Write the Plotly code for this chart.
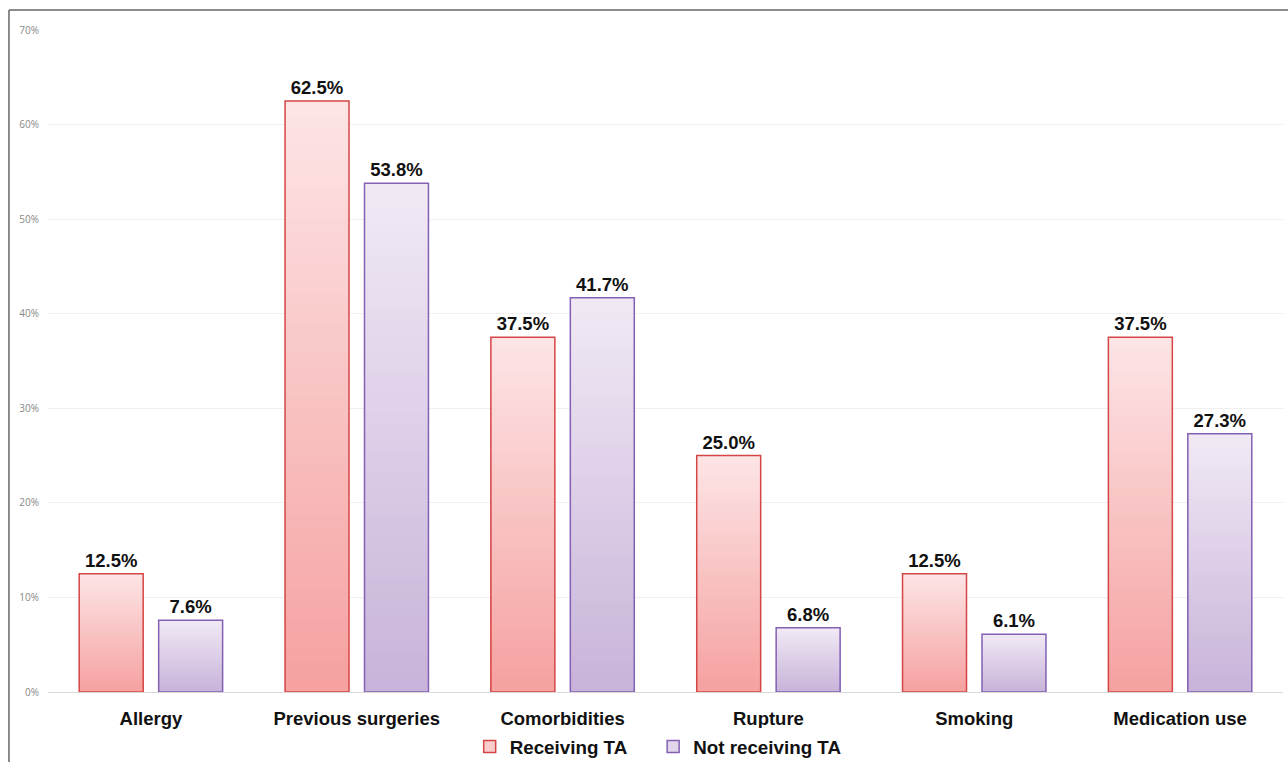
import plotly.graph_objects as go

categories = ["Allergy", "Previous surgeries", "Comorbidities", "Rupture", "Smoking", "Medication use"]
receiving_ta = [12.5, 62.5, 37.5, 25.0, 12.5, 37.5]
not_receiving_ta = [7.6, 53.8, 41.7, 6.8, 6.1, 27.3]
series_names = ["Receiving TA", "Not receiving TA"]

# gradient end colours (top, bottom) and outline colour per series
styles = {
    "Receiving TA": {"top": (253, 228, 229), "bottom": (245, 160, 159), "line": "#d64545"},
    "Not receiving TA": {"top": (240, 233, 244), "bottom": (199, 178, 217), "line": "#8460b4"},
}

N_STEPS = 40
FONT = "Liberation Sans, Arial"
NBSP = "\u00a0"


def mix(c1, c2, t):
    return "rgb({},{},{})".format(*[round(a + (b - a) * t) for a, b in zip(c1, c2)])


fig = go.Figure()

for k, (name, values) in enumerate(zip(series_names, [receiving_ta, not_receiving_ta])):
    st = styles[name]
    # overlapping bars, tallest first, shading from light (top) to dark (bottom)
    for i in range(N_STEPS):
        frac = (N_STEPS - i) / N_STEPS
        fig.add_trace(go.Bar(
            x=categories,
            y=[v * frac for v in values],
            offsetgroup=name,
            marker=dict(color=mix(st["top"], st["bottom"], 1 - frac), line=dict(width=0)),
            showlegend=False,
            hoverinfo="skip",
        ))
    # outline and value labels
    fig.add_trace(go.Bar(
        x=categories,
        y=values,
        offsetgroup=name,
        marker=dict(color="rgba(0,0,0,0)", line=dict(color=st["line"], width=1.5)),
        text=[f"{v:.1f}%" for v in values],
        textposition="outside",
        textfont=dict(family=FONT, size=18.5, color="#111111", weight="bold"),
        cliponaxis=False,
        showlegend=False,
        name=name,
    ))
    # legend entry (extra spacing after the first item)
    fig.add_trace(go.Bar(
        x=[None],
        y=[None],
        name=name + (NBSP * 4 if k == 0 else ""),
        marker=dict(color=mix(st["top"], st["bottom"], 0.35), line=dict(color=st["line"], width=1.5)),
        showlegend=True,
    ))

fig.update_layout(
    barmode="group",
    bargap=0.228,
    bargroupgap=0.195,
    width=1288,
    height=762,
    margin=dict(l=48, r=5, t=30, b=70, autoexpand=False),
    paper_bgcolor="white",
    plot_bgcolor="white",
    font=dict(family=FONT),
    uniformtext=dict(minsize=18, mode="show"),
    legend=dict(
        orientation="h",
        x=0.511, xanchor="center", xref="container",
        y=0.02, yanchor="middle", yref="container",
        font=dict(family=FONT, size=18.8, color="#111111", weight="bold"),
        itemwidth=30,
        tracegroupgap=0,
        traceorder="normal",
    ),
    xaxis=dict(
        showline=True,
        linecolor="#d9d9d9",
        linewidth=1,
        tickfont=dict(family=FONT, size=18.5, color="#111111", weight="bold"),
        ticks="",
        ticklabelstandoff=10,
    ),
    yaxis=dict(
        range=[0, 70],
        dtick=10,
        ticksuffix="%",
        showgrid=True,
        gridcolor="#efefef",
        gridwidth=1,
        zeroline=False,
        tickfont=dict(family="Open Sans, Liberation Sans", size=10, color="#888888"),
        ticklabelstandoff=8,
    ),
    shapes=[
        dict(type="line", xref="paper", yref="paper", x0=-0.0316, x1=-0.0316, y0=1.0302, y1=-0.12,
             line=dict(color="#666666", width=1.5)),
        dict(type="line", xref="paper", yref="paper", x0=-0.0316, x1=1.01, y0=1.0302, y1=1.0302,
             line=dict(color="#666666", width=1.5)),
    ],
)

fig.write_html("out.html")
